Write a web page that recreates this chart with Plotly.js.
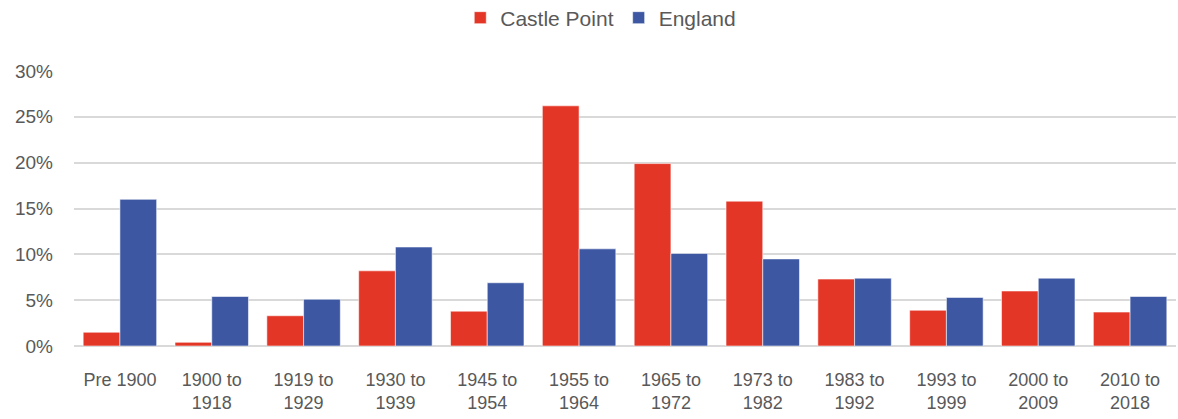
<!DOCTYPE html>
<html>
<head>
<meta charset="utf-8">
<script src="https://cdn.plot.ly/plotly-3.0.1.min.js"></script>
<style>html,body{margin:0;padding:0;background:#fff;}#chart{width:1178px;height:419px;}</style>
</head>
<body>
<div id="chart"></div>
<script>
const categories = ["Pre 1900", "1900 to<br>1918", "1919 to<br>1929", "1930 to<br>1939", "1945 to<br>1954", "1955 to<br>1964", "1965 to<br>1972", "1973 to<br>1982", "1983 to<br>1992", "1993 to<br>1999", "2000 to<br>2009", "2010 to<br>2018"];
const castlePoint = [1.5, 0.4, 3.3, 8.2, 3.8, 26.2, 19.9, 15.8, 7.3, 3.9, 6.0, 3.7];
const england = [16.0, 5.4, 5.1, 10.8, 6.9, 10.6, 10.1, 9.5, 7.4, 5.3, 7.4, 5.4];
const yTickVals = [0, 5, 10, 15, 20, 25, 30];
const yTickText = ["0%", "5%", "10%", "15%", "20%", "25%", "30%"];

const fontFam = "Liberation Sans, Arial, sans-serif";
const traces = [
  {type: "bar", name: "Castle Point", x: categories, y: castlePoint,
   marker: {color: "#E43627", line: {color: "rgba(255,255,255,0.55)", width: 1}}},
  {type: "bar", name: "England", x: categories, y: england,
   marker: {color: "#3D57A3", line: {color: "rgba(255,255,255,0.55)", width: 1}}}
];
const layout = {
  width: 1178, height: 419,
  margin: {l: 74, r: 2, t: 71, b: 73, autoexpand: false},
  paper_bgcolor: "#fff", plot_bgcolor: "#fff",
  font: {family: fontFam, color: "#595959", size: 19},
  barmode: "group", bargap: 0.2, bargroupgap: 0,
  showlegend: true,
  legend: {orientation: "h", x: 0.478, xanchor: "center", yref: "container", y: 0.957, yanchor: "middle",
           font: {size: 21, color: "#595959"}, traceorder: "normal", itemwidth: 30},
  xaxis: {type: "category", tickfont: {size: 18, color: "#595959"}, showgrid: false,
          ticks: "", showline: false, zeroline: false, ticklabelstandoff: 21},
  yaxis: {range: [0, 30], tickvals: yTickVals, ticktext: yTickText, showgrid: true,
          gridcolor: "#D9D9D9", gridwidth: 2, zeroline: true, zerolinecolor: "#D9D9D9",
          zerolinewidth: 2, showline: false, ticks: "", ticklabelstandoff: 20,
          tickfont: {size: 19, color: "#595959"}, fixedrange: true}
};
Plotly.newPlot("chart", traces, layout, {displayModeBar: false, staticPlot: true});
</script>
</body>
</html>
